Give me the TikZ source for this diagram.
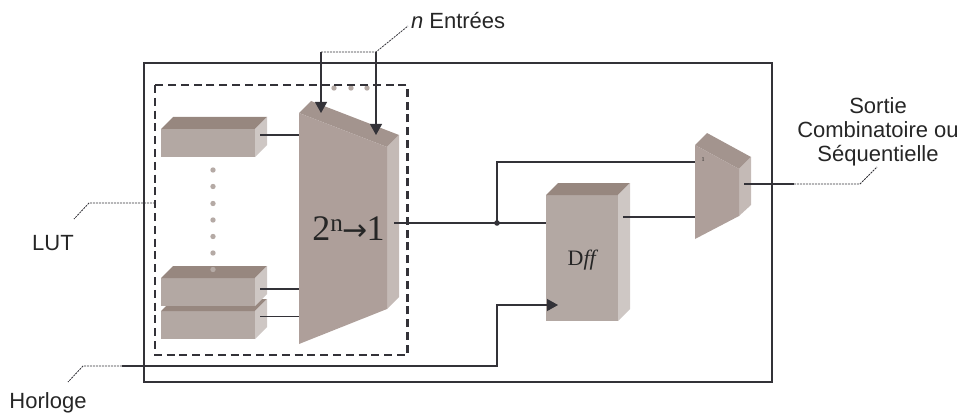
\documentclass[tikz,border=0pt]{standalone}
\usepackage{fontspec}
\setmainfont{Liberation Sans}
\newfontfamily\blockfont{Liberation Serif}
\newfontfamily\arrowfont{DejaVu Sans}
\usetikzlibrary{arrows.meta}
\begin{document}
\begin{tikzpicture}[
  x=1pt, y=-1pt,
  every node/.style = {inner sep=0pt, outer sep=0pt},
  label/.style = {align=center, text=black!85, font=\fontsize{22}{24}\selectfont},
  blockfront/.style = {shape=rectangle, fill=front, minimum width=94pt},
  blocktop/.style = {fill=top},
  blockside/.style = {fill=side},
  frame/.style = {draw=ink, line width=2pt},
  lutframe/.style = {draw=ink, line width=2.6pt, dash pattern=on 8pt off 4.8pt},
  wire/.style = {draw=ink, line width=1.1pt},
  feed/.style = {wire, -{Triangle[length=11pt,width=12pt]}},
  leader/.style = {draw=ink, line width=0.8pt, dash pattern=on 2pt off 1pt},
  greydot/.style = {fill=dotgrey}
  ]
  \definecolor{front}{HTML}{B3A8A3}
  \definecolor{top}{HTML}{97877F}
  \definecolor{side}{HTML}{CEC7C4}
  \definecolor{muxfront}{HTML}{AE9F9A}
  \definecolor{muxtop}{HTML}{A3948E}
  \definecolor{muxside}{HTML}{C4BAB6}
  \definecolor{ink}{HTML}{333238}
  \definecolor{dotgrey}{HTML}{B5AAA5}
  \useasboundingbox (0,0) rectangle (963,417);

  \node[blockfront, minimum height=28pt] (lutA) at (208,143) {};
  \fill[blocktop] (lutA.north west) -- ++(12,-12) -- ++(94,0) -- (lutA.north east) -- cycle;
  \fill[blockside] (lutA.north east) -- ++(12,-12) -- ++(0,28) -- (lutA.south east) -- cycle;
  \node[blockfront, minimum height=28pt] (lutC) at (208,325) {};
  \fill[blocktop] (lutC.north west) -- ++(12,-12) -- ++(94,0) -- (lutC.north east) -- cycle;
  \fill[blockside] (lutC.north east) -- ++(12,-12) -- ++(0,28) -- (lutC.south east) -- cycle;
  \node[blockfront, minimum height=28pt] (lutB) at (208,292) {};
  \fill[blocktop] (lutB.north west) -- ++(12,-12) -- ++(94,0) -- (lutB.north east) -- cycle;
  \fill[blockside] (lutB.north east) -- ++(12,-12) -- ++(0,28) -- (lutB.south east) -- cycle;

  \coordinate (bigNW) at (299,113);
  \coordinate (bigNE) at (387,147);
  \coordinate (bigSE) at (387,309);
  \coordinate (bigSW) at (299,344);
  \fill[muxtop] (bigNW) -- ++(12,-12) -- (399,135) -- (bigNE) -- cycle;
  \fill[muxside] (bigNE) -- ++(12,-12) -- (399,297) -- (bigSE) -- cycle;
  \fill[muxfront] (bigNW) -- (bigNE) -- (bigSE) -- (bigSW) -- cycle;
  \node[font=\blockfont\fontsize{36}{36}\selectfont, text=black!85] (bigtext) at (348.5,229) {2\textsuperscript{n}{\arrowfont\fontsize{30}{30}\selectfont\kern-1pt →\kern-1pt}1};

  \node[shape=rectangle, fill=front, minimum width=72pt, minimum height=126pt] (dff) at (582,258) {};
  \fill[blocktop] (dff.north west) -- ++(12,-12) -- ++(72,0) -- (dff.north east) -- cycle;
  \fill[blockside] (dff.north east) -- ++(12,-12) -- ++(0,126) -- (dff.south east) -- cycle;
  \node[font=\blockfont\fontsize{22}{22}\selectfont, text=black!85] (dfftext) at (583,260) {D\textit{ff}};

  \coordinate (smallNW) at (695,145);
  \coordinate (smallNE) at (739,169);
  \coordinate (smallSE) at (739,216);
  \coordinate (smallSW) at (695,239);
  \fill[muxtop] (smallNW) -- ++(12,-12) -- (751,157) -- (smallNE) -- cycle;
  \fill[muxside] (smallNE) -- ++(12,-12) -- (751,205) -- (smallSE) -- cycle;
  \fill[muxfront] (smallNW) -- (smallNE) -- (smallSE) -- (smallSW) -- cycle;
  \node[font=\blockfont\fontsize{6}{6}\selectfont, text=black!85] (smallone) at (703,160) {1};

  \fill[greydot] (334,88) circle (2.7) (351,88) circle (2.7) (367,88) circle (2.7);
  \fill[greydot] (213,170) circle (2.7) (213,186.5) circle (2.7) (213,203.5) circle (2.7)
    (213,220) circle (2.7) (213,236.5) circle (2.7) (213,253) circle (2.7) (213,269.5) circle (2.7);

  \draw[frame] (144,63) rectangle (771.5,382);
  \draw[lutframe] (155,85) rectangle (407.5,355);

  \coordinate (wireA) at (260,135);
  \coordinate (wireB) at (260,289);
  \coordinate (wireC) at (260,316.5);
  \draw[wire] (wireA) -- (wireA -| bigNW);
  \draw[wire] (wireB) -- (wireB -| bigNW);
  \draw[wire] (wireC) -- (wireC -| bigNW);

  \coordinate (bigout) at (394,223);
  \coordinate (junction) at (497,223);
  \coordinate (dffout) at (623,217);
  \coordinate (smallout) at (744,184);
  \coordinate (smallin) at (695,162);
  \draw[wire] (bigout) -- (bigout -| dff.west);
  \draw[wire] (junction) |- (smallin);
  \fill[ink] (junction) circle (2.8);
  \draw[wire] (dffout) -- (dffout -| smallNW);

  \coordinate (clockstart) at (122,366);
  \coordinate (clockturn) at (497,366);
  \coordinate (clocktip) at (558,305);
  \draw[feed] (clockstart) -- (clockturn) |- (clocktip);

  \coordinate (entryA) at (321,52);
  \coordinate (entryB) at (376,52);
  \coordinate (entrytipA) at (321,113);
  \coordinate (entrytipB) at (376,135);
  \draw[feed] (entryA) -- (entrytipA);
  \draw[feed] (entryB) -- (entrytipB);

  \node[label, anchor=west] (entrees) at (411,21) {\textit{n} Entrées};
  \node[label] (lut) at (53,243) {LUT};
  \node[label] (horloge) at (48,403) {Horloge};
  \node[label] (sortie) at (878,132) {Sortie\\Combinatoire ou\\Séquentielle};

  \draw[leader] (entryA) -- (entryB) -- (408,26);
  \coordinate (lutelbow) at (89,203);
  \coordinate (lutfree) at (74,219);
  \draw[leader] (155,203) -- (lutelbow) -- (lutfree);
  \coordinate (clockelbow) at (83,366);
  \coordinate (clockfree) at (68,382);
  \draw[leader] (clockstart) -- (clockelbow) -- (clockfree);
  \coordinate (outelbow) at (860,184);
  \coordinate (outfree) at (877,167);
  \coordinate (outstart) at (794,184);
  \draw[wire] (smallout) -- (outstart);
  \draw[leader] (outstart) -- (outelbow) -- (outfree);
\end{tikzpicture}
\end{document}
